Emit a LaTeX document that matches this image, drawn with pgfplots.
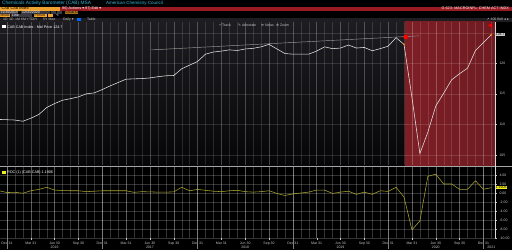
\documentclass[border=0pt]{standalone}
\usepackage{fontspec}
\setmainfont{Liberation Sans}
\newfontfamily\sym{DejaVu Sans}
\usepackage{pgfplots}
\usepackage{pgfplotstable}
\pgfplotsset{compat=1.18}

\definecolor{bgtop}{HTML}{1D1D21}
\definecolor{bgbot}{HTML}{060608}
\definecolor{cabline}{HTML}{E6E6E6}
\definecolor{rocline}{HTML}{A9A52A}
\definecolor{shadeL}{HTML}{7E1E25}
\definecolor{shadeM}{HTML}{3C1013}
\definecolor{shadeR}{HTML}{6E1B21}
\definecolor{bbred}{HTML}{9B1B22}
\definecolor{bborange}{HTML}{F0A22E}
\definecolor{bbcyan}{HTML}{35B5D5}
\definecolor{labc}{HTML}{C8C8C8}
\definecolor{tabbg}{HTML}{1E1E22}
\definecolor{boxbg}{HTML}{3A3A40}
\definecolor{hiyel}{HTML}{F2EE1A}

\newcommand\tf{\fontsize{3.5}{4}\selectfont}
\newcommand\hf{\fontsize{3.8}{4.2}\selectfont}

\pgfplotstableread{
m cab
-1 110.8
0 110.75
1 110.7
2 110.5
3 111.0
4 111.6
5 112.75
6 113.4
7 113.95
8 114.2
9 114.5
10 115.0
11 115.15
12 115.7
13 116.3
14 116.85
15 117.4
16 117.45
17 117.5
18 117.6
19 117.8
20 117.95
21 118.0
22 119.1
23 119.7
24 120.3
25 121.5
26 121.85
27 122.0
28 122.2
29 122.1
30 122.35
31 122.45
32 122.7
33 123.1
34 122.35
35 121.6
36 121.5
37 121.5
38 121.5
39 122.0
40 122.7
41 122.4
42 122.5
43 123.0
44 122.5
45 122.6
46 122.05
47 122.4
48 122.8
49 124.2
50 123.1
51 114.4
52 105.2
53 108.7
54 113.0
55 115.1
56 117.3
57 118.3
58 119.2
59 122.1
60 123.4
61 124.7
}\cabdata

\pgfplotstableread{
m roc
-1 0.5
0 0.1
1 0.15
2 -0.05
3 0.5
4 0.8
5 1.27
6 0.65
7 0.55
8 0.5
9 0.5
10 0.3
11 0.4
12 0.5
13 0.5
14 0.5
15 0.5
16 0.15
17 0.3
18 0.25
19 0.2
20 0.2
21 0.25
22 1.27
23 0.5
24 0.8
25 0.6
26 0.4
27 0.3
28 0.5
29 0.6
30 0.3
31 0.2
32 0.3
33 0.5
34 -0.1
35 -0.55
36 -0.2
37 0.0
38 0.2
39 0.65
40 0.65
41 -0.1
42 0.2
43 0.4
44 -0.3
45 0.2
46 -0.3
47 0.5
48 0.35
49 1.27
50 -0.9
51 -8.2
52 -6.2
53 3.7
54 4.2
55 2.0
56 2.0
57 0.82
58 0.82
59 2.73
60 0.82
61 1.19
}\rocdata

\pgfplotsset{
  topax/.style={
    at={(0pt,85pt)}, anchor=south west, scale only axis,
    width=495pt, height=143pt,
    xmin=-0.88, xmax=61.46, ymin=103.33, ymax=126.77,
  },
}

\begin{document}
\begin{tikzpicture}
\fill[black] (0pt,0pt) rectangle (512pt,250pt);

% ---------- header ----------
\begin{scope}[x=1pt,y=1pt]
\node[anchor=west, inner sep=0pt, text=bbcyan, font=\fontsize{4.8}{5}\selectfont] at (2,246.8) {Chemicals Activity Barometer (CAB) MSA};
\node[anchor=west, inner sep=0pt, text=bbcyan, font=\fontsize{4.5}{5}\selectfont] at (106,246.8) {American Chemistry Council};
\fill[bbred] (60,239.5) rectangle (512,243.5);
\fill[bborange] (0,239.5) rectangle (60,243.5);
\node[anchor=west, inner sep=0pt, text=black, font=\hf] at (1.5,241.5) {CAB CAB Index};
\node[anchor=west, inner sep=0pt, text=white, font=\hf] at (62,241.5) {96) Actions {\sym▾}};
\node[anchor=west, inner sep=0pt, text=white, font=\hf] at (85,241.5) {97) Edit {\sym▾}};
\node[anchor=east, inner sep=0pt, text=white, font=\hf] at (509,241.5) {G 623: MACROINFL: CHEM ACT INDX};
% row 3
\fill[boxbg] (0,236.3) rectangle (18,239.2);
\node[anchor=west, inner sep=0pt, text=white, font=\tf] at (0.5,237.8) {11/30/2015};
\node[anchor=west, inner sep=0pt, text=white, font=\tf] at (18.5,237.8) {-};
\fill[boxbg] (21,236.3) rectangle (50,239.2);
\node[anchor=west, inner sep=0pt, text=white, font=\tf] at (22,237.8) {12/31/2020};
\fill[boxbg] (51,236.3) rectangle (56,239.2);
\fill[boxbg] (57,236.3) rectangle (62,239.2);
\fill[bborange!70!black] (65,236.3) rectangle (78,239.2);
\node[anchor=west, inner sep=0pt, text=black, font=\tf] at (65.5,237.8) {Local CCY};
% row 4
\fill[bborange] (0,232.8) rectangle (10,235.8);
\node[anchor=west, inner sep=0pt, text=black, font=\tf] at (0.5,234.3) {Mode};
\fill[boxbg] (11,232.8) rectangle (32,235.8);
\node[anchor=west, inner sep=0pt, text=white, font=\tf] at (12,234.3) {Line};
\fill[bborange] (34,232.8) rectangle (47,235.8);
\node[anchor=west, inner sep=0pt, text=black, font=\tf] at (34.5,234.3) {Period};
\fill[bborange] (48,232.8) rectangle (53,235.8);
\node[anchor=west, inner sep=0pt, text=white, font=\tf] at (56,234.3) {\sym✎};
% row 5 (tabs)
\fill[tabbg] (0,228.3) rectangle (512,232.3);
\foreach \xx/\lab in {3/1D,9/3D,15/1M,21/6M,26.5/YTD,33/1Y,43/5Y,48.5/Max,63/Daily {\sym▾},87/Table}
  {\node[anchor=west, inner sep=0pt, text=labc, font=\tf] at (\xx,230.3) {\lab};}
\fill[blue!60!cyan] (77,229) rectangle (80.5,231.8);
\node[anchor=east, inner sep=0pt, text=labc, font=\tf] at (509,230.3) {{\sym↗} 100 Bell {\sym◂ ▸}};
% top panel background
\fill[top color=bgtop, bottom color=bgbot] (0,85) rectangle (495,228);
\end{scope}

% ---------- recession shading (behind grid) ----------
\begin{axis}[topax, hide axis]
\fill[left color=shadeL, middle color=shadeM, right color=shadeR]
  (axis cs:50.1,103.33) rectangle (axis cs:61.46,126.77);
\end{axis}

% ---------- top panel axis ----------
\begin{axis}[
  topax, clip=false,
  axis line style={draw=none},
  xtick={0,3,...,60}, minor xtick={-1,0,...,61},
  xticklabels={}, x tick style={draw=none},
  minor x tick style={draw=none},
  ytick={105,110,115,120,125}, yticklabels={105,110,115,120,{}},
  ytick pos=right, yticklabel pos=right,
  y tick style={draw=labc, line width=0.3pt},
  tick align=outside, major tick length=1.5pt,
  yticklabel style={font=\tf, text=labc, xshift=-0.5pt},
  grid=both,
  major grid style={draw=white, opacity=0.13, line width=0.35pt},
  minor grid style={draw=white, opacity=0.13, line width=0.35pt},
]
\addplot[color=gray!80!white, line width=0.45pt] coordinates {(18.2,122.2) (51.9,124.5)};
\addplot[color=cabline, line width=0.55pt] table[x=m, y=cab] {\cabdata};
\addplot[only marks, mark=*, mark size=0.7pt, color=orange] coordinates {(50,123.1) (61,124.7)};
\addplot[only marks, mark=*, mark size=2pt, color=red] coordinates {(50.2,124.3)};
\addplot[only marks, mark=triangle*, mark size=2pt, color=red, mark options={rotate=90}] coordinates {(60.9,126.2)};
\node[anchor=west, fill=labc, text=black, inner sep=0.6pt, font=\tf] at (axis cs:61.46,124.7) {124.7};
\end{axis}

\begin{scope}[x=1pt,y=1pt]
% legend row top
\fill[white] (2,221.6) rectangle (5.5,225.1);
\node[anchor=west, inner sep=0pt, text=white, font=\fontsize{3.7}{4}\selectfont] at (7,223.3) {CAB CAB Index - Mid Price 124.7};
\node[anchor=west, inner sep=0pt, text=labc, font=\tf] at (219,225) {+ Track};
\node[anchor=west, inner sep=0pt, text=labc, font=\tf] at (238,225) {{\sym✎} Annotate};
\node[anchor=west, inner sep=0pt, text=labc, font=\tf] at (261,225) {{\sym≡} News};
\node[anchor=west, inner sep=0pt, text=labc, font=\tf] at (276,225) {{\sym⊕} Zoom};
% separator
\draw[gray!70, line width=0.5pt] (0,84) -- (512,84);
\end{scope}

% ---------- bottom panel axis ----------
\begin{axis}[
  at={(0pt,12pt)}, anchor=south west, scale only axis,
  width=495pt, height=71pt,
  xmin=-0.88, xmax=61.46, ymin=-10, ymax=5.78,
  clip=false,
  axis line style={draw=none},
  xtick={0,3,...,60}, minor xtick={-1,0,...,61},
  xticklabels={Dec 31,Mar 31,Jun 30,Sep 30,Dec 31,Mar 31,Jun 30,Sep 30,Dec 31,Mar 31,Jun 30,Sep 30,Dec 31,Mar 31,Jun 30,Sep 30,Dec 31,Mar 31,Jun 30,Sep 30,Dec 31},
  xticklabel style={font=\tf, text=labc, yshift=1pt},
  x tick style={draw=labc, line width=0.3pt},
  minor x tick style={draw=none},
  xtick pos=bottom,
  extra x ticks={0,12,...,60}, extra x tick labels={},
  extra x tick style={major tick length=11pt, x tick style={draw=gray, line width=0.4pt}},
  ytick={-10,-8,...,4},
  yticklabels={-10.00,-8.00,-6.00,-4.00,-2.00,0.00,2.00,4.00},
  ytick pos=right, yticklabel pos=right,
  y tick style={draw=labc, line width=0.3pt},
  tick align=outside, major tick length=1.5pt,
  yticklabel style={font=\tf, text=labc, xshift=-0.5pt},
  grid=both,
  major grid style={draw=white, opacity=0.2, line width=0.35pt},
  minor grid style={draw=white, opacity=0.2, line width=0.35pt},
]
\addplot[color=rocline, line width=0.55pt] table[x=m, y=roc] {\rocdata};
\node[anchor=west, fill=hiyel, text=black, inner sep=0.6pt, font=\tf] at (axis cs:61.46,1.19) {1.1906};
\node[text=labc, font=\tf, inner sep=0pt, yshift=-9pt] at (axis cs:6,-10) {2016};
\node[text=labc, font=\tf, inner sep=0pt, yshift=-9pt] at (axis cs:18,-10) {2017};
\node[text=labc, font=\tf, inner sep=0pt, yshift=-9pt] at (axis cs:30,-10) {2018};
\node[text=labc, font=\tf, inner sep=0pt, yshift=-9pt] at (axis cs:42,-10) {2019};
\node[text=labc, font=\tf, inner sep=0pt, yshift=-9pt] at (axis cs:54,-10) {2020};
\node[text=labc, font=\tf, inner sep=0pt, yshift=-9pt] at (axis cs:61,-10) {2021};
\end{axis}

\begin{scope}[x=1pt,y=1pt]
% legend row bottom
\fill[hiyel] (2,75.6) rectangle (5.5,79.1);
\node[anchor=west, inner sep=0pt, text=white, font=\fontsize{3.7}{4}\selectfont] at (7,77.3) {ROC (1) (CAB CAB) 1.1906};
% right edge line
\draw[labc!70, line width=0.4pt] (495,12) -- (495,228);
\end{scope}
\pgfresetboundingbox
\useasboundingbox (0pt,0pt) rectangle (512pt,250pt);
\end{tikzpicture}
\end{document}
